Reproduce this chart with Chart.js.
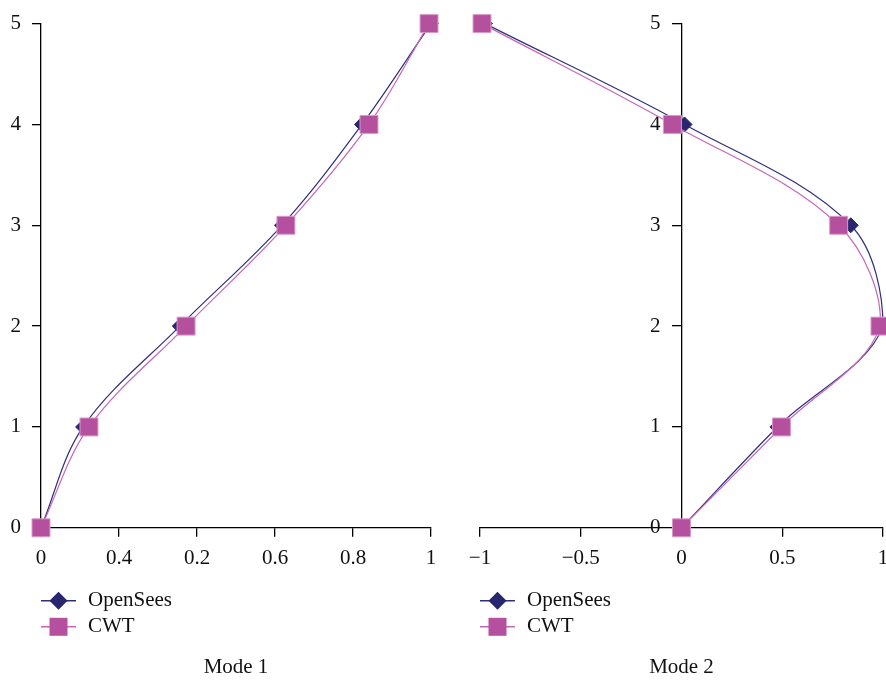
<!DOCTYPE html>
<html>
<head>
<meta charset="utf-8">
<script src="https://cdn.jsdelivr.net/npm/chart.js@4.4.0/dist/chart.umd.min.js"></script>
<style>
    html, body { margin: 0; padding: 0; background: #fff; overflow: hidden; }
    #wrap { position: relative; width: 886px; height: 680px; overflow: hidden; }
    canvas { position: absolute; top: 0; }
    #mode1 { left: 0; }
    #mode2 { left: 450px; }
</style>
</head>
<body>
<div id="wrap">
    <canvas id="mode1" width="450" height="680"></canvas>
    <canvas id="mode2" width="450" height="680"></canvas>
</div>
<script>
// storey levels (y) and mode shape amplitudes (x)
const storeys = [0, 1, 2, 3, 4, 5]
const mode1OpenSees = [0, 0.108, 0.356, 0.618, 0.823, 1.0]
const mode1CWT = [0, 0.123, 0.372, 0.628, 0.841, 0.995]
const mode2OpenSees = [0, 0.476, 1.0, 0.84, 0.015, -0.975]
const mode2CWT = [0, 0.496, 0.985, 0.78, -0.045, -0.99]

const mode1XLabels = ['0', '0.4', '0.2', '0.6', '0.8', '1']
const mode2XLabels = ['\u22121', '\u22120.5', '0', '0.5', '1']
const yLabels = ['0', '1', '2', '3', '4', '5']
const seriesNames = ['OpenSees', 'CWT']

const navy = '#27266f'
const navyLine = '#2f2e7c'
const pink = '#b5509f'
const pinkLine = '#c566b6'
const pinkEdge = '#d99acb'
const fontFamily = '"Liberation Serif", "Times New Roman", serif'
const fontSize = 21

const toPoints = xs => xs.map((x, i) => ({ x: x, y: storeys[i] }))

function makeDatasets(openSees, cwt) {
    return [
        {
            label: seriesNames[0],
            data: toPoints(openSees),
            showLine: true,
            borderColor: navyLine,
            borderWidth: 1.2,
            pointStyle: 'rectRot',
            pointRadius: 7.5,
            pointBackgroundColor: navy,
            pointBorderColor: navy,
            pointBorderWidth: 1,
            tension: 0.35,
            clip: false,
            order: 1,
        },
        {
            label: seriesNames[1],
            data: toPoints(cwt),
            showLine: true,
            borderColor: pinkLine,
            borderWidth: 1.2,
            pointStyle: 'rect',
            pointRadius: 12.7,
            pointBackgroundColor: pink,
            pointBorderColor: pinkEdge,
            pointBorderWidth: 1,
            tension: 0.35,
            clip: false,
            order: 0,
        },
    ]
}

// legend drawn under the x axis: short line with the marker, then the name
const lineLegend = {
    id: 'lineLegend',
    afterDraw(chart) {
        const ctx = chart.ctx
        const area = chart.chartArea
        const rows = [area.bottom + 73, area.bottom + 99]
        ctx.save()
        ctx.font = fontSize + 'px ' + fontFamily
        ctx.textBaseline = 'middle'
        rows.forEach((y, i) => {
            const x0 = area.left
            const cx = x0 + 17.5
            ctx.beginPath()
            ctx.moveTo(x0, y)
            ctx.lineTo(x0 + 35, y)
            ctx.lineWidth = 1.5
            ctx.strokeStyle = i === 0 ? navyLine : pinkLine
            ctx.stroke()
            ctx.beginPath()
            if (i === 0) {
                ctx.moveTo(cx - 9, y)
                ctx.lineTo(cx, y - 9)
                ctx.lineTo(cx + 9, y)
                ctx.lineTo(cx, y + 9)
                ctx.closePath()
                ctx.fillStyle = navy
                ctx.fill()
            } else {
                ctx.rect(cx - 9, y - 9, 18, 18)
                ctx.fillStyle = pink
                ctx.fill()
            }
            ctx.fillStyle = '#111'
            ctx.fillText(seriesNames[i], x0 + 47, y)
        })
        ctx.restore()
    },
}

function axisStyle(extra) {
    return Object.assign({
        type: 'linear',
        grid: {
            display: true,
            drawOnChartArea: false,
            drawTicks: true,
            tickLength: 9,
            color: '#000',
            lineWidth: 1.3,
        },
        border: { display: true, color: '#000', width: 1.3 },
    }, extra)
}

function makeChart(canvasId, openSees, cwt, xMin, xStep, xLabels, title, padding, yPosition, ySuffix) {
    return new Chart(document.getElementById(canvasId), {
        type: 'scatter',
        data: { datasets: makeDatasets(openSees, cwt) },
        options: {
            responsive: false,
            animation: false,
            devicePixelRatio: 1,
            layout: { padding: padding },
            plugins: {
                legend: { display: false },
                tooltip: { enabled: false },
                title: {
                    display: true,
                    text: title,
                    position: 'bottom',
                    fullSize: false,
                    color: '#111',
                    font: { family: fontFamily, size: fontSize, weight: 'normal' },
                    padding: { top: 77, bottom: 0 },
                },
            },
            scales: {
                x: axisStyle({
                    min: xMin,
                    max: 1,
                    afterFit: scale => { scale.height = 50 },
                    ticks: {
                        stepSize: xStep,
                        padding: 9,
                        color: '#111',
                        font: { family: fontFamily, size: fontSize },
                        maxRotation: 0,
                        callback: (v, i) => xLabels[i],
                    },
                }),
                y: axisStyle({
                    min: 0,
                    max: 5,
                    position: yPosition,
                    afterFit: scale => { scale.width = 41 },
                    ticks: {
                        stepSize: 1,
                        padding: 11,
                        color: '#111',
                        font: { family: fontFamily, size: fontSize },
                        callback: (v, i) => yLabels[i] + ySuffix,
                    },
                }),
            },
        },
        plugins: [lineLegend],
    })
}

makeChart('mode1', mode1OpenSees, mode1CWT, 0, 0.2, mode1XLabels, 'Mode 1',
    { left: 0, right: 19, top: 20, bottom: 0 }, 'left', '')
// the centred y axis puts its labels right against the line, so an em space pushes them off it
makeChart('mode2', mode2OpenSees, mode2CWT, -1, 0.5, mode2XLabels, 'Mode 2',
    { left: 30, right: 17, top: 20, bottom: 0 }, { x: 0 }, '\u2003')
</script>
</body>
</html>
